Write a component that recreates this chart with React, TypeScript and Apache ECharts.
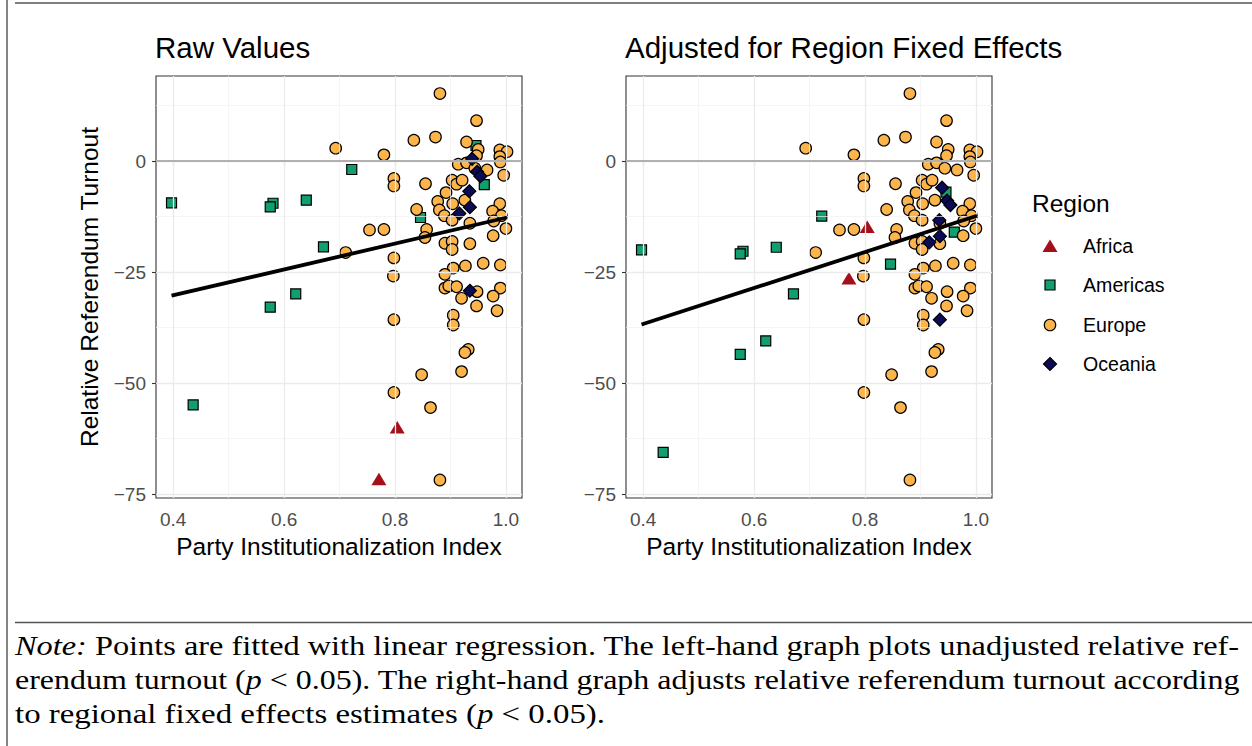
import React, { useEffect, useRef } from "react";
import * as echarts from "echarts";

// ---- Data ----
const xTicks = [0.4, 0.6, 0.8, 1.0];
const xMinor = [0.5, 0.7, 0.9];
const yTicks = [-75, -50, -25, 0];
const yMinor = [-62.5, -37.5, -12.5, 12.5];

const regions = ["Africa", "Americas", "Europe", "Oceania"];

// Europe is the reference region: identical in both panels
const europe: [number, number][] = [
  [0.881, 15.2], [0.947, 9.1], [0.834, 4.7], [0.873, 5.4], [0.693, 2.9], [0.78, 1.4],
  [0.929, 4.3], [0.95, 2.6], [0.947, 1.2], [0.989, 2.5], [1.002, 2.1], [0.989, 1.0], [0.99, -0.2],
  [0.914, -0.7], [0.929, -0.4], [0.944, -1.6], [0.966, -2.0], [0.996, -3.2],
  [0.798, -3.9], [0.798, -5.6], [0.855, -5.1], [0.903, -4.3], [0.911, -5.2], [0.921, -4.3],
  [0.892, -7.1], [0.877, -9.1], [0.904, -9.6], [0.926, -8.8], [0.989, -9.6],
  [0.839, -10.9], [0.88, -11.0], [0.889, -12.3], [0.903, -13.3],
  [0.976, -11.3], [0.992, -12.3], [0.978, -13.5], [1.0, -15.2], [0.977, -16.8], [0.935, -14.0],
  [0.857, -15.4], [0.854, -17.2], [0.754, -15.5], [0.78, -15.4], [0.711, -20.6], [0.798, -21.8], [0.797, -25.9],
  [0.89, -18.5], [0.903, -18.1], [0.903, -19.9], [0.935, -18.6],
  [0.959, -23.0], [0.99, -23.4], [0.927, -23.6], [0.905, -24.1], [0.89, -25.5],
  [0.89, -28.6], [0.897, -28.1], [0.911, -28.3], [0.948, -29.4], [0.92, -30.9], [0.947, -32.6],
  [0.99, -28.6], [0.977, -30.4], [0.984, -33.7], [0.905, -34.7], [0.905, -36.9], [0.798, -35.7],
  [0.932, -42.4], [0.926, -43.1], [0.92, -47.4], [0.848, -48.1], [0.798, -52.1], [0.864, -55.5], [0.881, -71.8],
];

const americasRaw: [number, number][] = [
  [0.397, -9.4], [0.436, -54.9], [0.58, -9.5], [0.575, -10.3], [0.575, -32.9], [0.64, -8.8],
  [0.621, -29.9], [0.671, -19.3], [0.722, -1.9], [0.846, -12.7], [0.961, -5.3], [0.946, 3.5],
];
const americasAdj: [number, number][] = [
  [0.397, -20.0], [0.436, -65.6], [0.58, -20.3], [0.575, -20.9], [0.575, -43.5], [0.64, -19.4],
  [0.621, -40.5], [0.671, -29.9], [0.722, -12.4], [0.846, -23.2], [0.961, -16.0], [0.946, -7.0],
];

const africaRaw: [number, number][] = [[0.804, -59.9], [0.771, -71.6]];
const africaAdj: [number, number][] = [[0.804, -14.8], [0.771, -26.4]];

const oceaniaRaw: [number, number][] = [
  [0.939, 0.5], [0.948, -2.4], [0.954, -3.4], [0.934, -6.8], [0.935, -10.4], [0.916, -11.8], [0.935, -29.2],
];
const oceaniaAdj: [number, number][] = [
  [0.939, -6.0], [0.948, -8.9], [0.954, -9.9], [0.934, -13.3], [0.935, -16.9], [0.916, -18.3], [0.935, -35.7],
];

const fitRaw: [number, number][] = [[0.397, -30.3], [1.002, -12.7]];
const fitAdj: [number, number][] = [[0.397, -36.8], [1.002, -12.3]];

const titles = ["Raw Values", "Adjusted for Region Fixed Effects"];
const xTitle = "Party Institutionalization Index";
const yTitle = "Relative Referendum Turnout";
const legendTitle = "Region";

const noteLines: [string, boolean][][] = [
  [["Note:", true], [" Points are fitted with linear regression. The left-hand graph plots unadjusted relative ref-", false]],
  [["erendum turnout (", false], ["p", true], [" < 0.05). The right-hand graph adjusts relative referendum turnout according", false]],
  [["to regional fixed effects estimates (", false], ["p", true], [" < 0.05).", false]],
];

// ---- Styles ----
const SANS = "'Liberation Sans', Arial, Helvetica, sans-serif";
const SERIF = "'Liberation Serif', 'Times New Roman', serif";
const COLORS: Record<string, string> = {
  Africa: "#A50F1B",
  Americas: "#139E6E",
  Europe: "#FDB44B",
  Oceania: "#0B0B58",
};

const X_MIN = 0.369;
const X_MAX = 1.029;
const Y_MIN = -75.85;
const Y_MAX = 19.15;

const fmtY = (v: number) => (v < 0 ? "\u2212" + Math.abs(v) : String(v));

export default function App() {
  const ref = useRef<HTMLDivElement>(null);

  useEffect(() => {
    if (!ref.current) return;
    const chart = echarts.init(ref.current, undefined, { renderer: "svg" });

    const gridLefts = [156, 626];
    const grids = gridLefts.map((l) => ({
      left: l,
      top: 76,
      width: 366,
      height: 422,
      show: true,
      borderColor: "#333333",
      borderWidth: 1.1,
      backgroundColor: "#ffffff",
    }));

    const xAxes = gridLefts.map((_, i) => ({
      type: "value",
      gridIndex: i,
      min: X_MIN,
      max: X_MAX,
      axisLine: { show: false },
      splitLine: { show: false },
      axisTick: { show: true, length: 4, lineStyle: { color: "#333333", width: 1.1 }, customValues: xTicks },
      axisLabel: {
        customValues: xTicks,
        formatter: (v: number) => v.toFixed(1),
        fontSize: 19,
        fontFamily: SANS,
        color: "#4d4d4d",
        margin: 12,
      },
      name: xTitle,
      nameLocation: "middle",
      nameGap: 36,
      nameTextStyle: { fontSize: 24.5, fontFamily: SANS, color: "#000" },
    }));

    const yAxes = gridLefts.map((_, i) => ({
      type: "value",
      gridIndex: i,
      min: Y_MIN,
      max: Y_MAX,
      axisLine: { show: false },
      splitLine: { show: false },
      axisTick: { show: true, length: 4, lineStyle: { color: "#333333", width: 1.1 }, customValues: yTicks },
      axisLabel: {
        customValues: yTicks,
        formatter: fmtY,
        fontSize: 19,
        fontFamily: SANS,
        color: "#4d4d4d",
        margin: 10,
      },
      name: i === 0 ? yTitle : "",
      nameLocation: "middle",
      nameGap: 54,
      nameRotate: 90,
      nameTextStyle: { fontSize: 24.5, fontFamily: SANS, color: "#000" },
    }));

    const series: any[] = [];
    const panels = [
      { americas: americasRaw, africa: africaRaw, oceania: oceaniaRaw, fit: fitRaw },
      { americas: americasAdj, africa: africaAdj, oceania: oceaniaAdj, fit: fitAdj },
    ];

    panels.forEach((p, i) => {
      const gridLineData: any[] = [
        ...xMinor.map((v) => ({ xAxis: v, lineStyle: { color: "#f1f1f1", width: 0.7, type: "solid" } })),
        ...yMinor.map((v) => ({ yAxis: v, lineStyle: { color: "#f1f1f1", width: 0.7, type: "solid" } })),
        ...xTicks.map((v) => ({ xAxis: v, lineStyle: { color: "#ebebeb", width: 1.3, type: "solid" } })),
        ...yTicks.map((v) => ({ yAxis: v, lineStyle: { color: "#ebebeb", width: 1.3, type: "solid" } })),
        { yAxis: 0, lineStyle: { color: "#b0b0b0", width: 1.8, type: "solid" } },
      ];
      series.push({
        type: "line",
        xAxisIndex: i,
        yAxisIndex: i,
        data: [],
        z: 1,
        silent: true,
        markLine: {
          silent: true,
          symbol: ["none", "none"],
          label: { show: false },
          emphasis: { disabled: true },
          animation: false,
          data: gridLineData,
        },
      });
      const common = { type: "scatter", xAxisIndex: i, yAxisIndex: i, z: 3, silent: true, emphasis: { disabled: true } };
      series.push({
        ...common,
        name: "Americas",
        data: p.americas,
        symbol: "rect",
        symbolSize: 10,
        itemStyle: { color: COLORS.Americas, borderColor: "#000", borderWidth: 1.2, opacity: 1 },
      });
      series.push({
        ...common,
        name: "Europe",
        data: europe,
        symbol: "circle",
        symbolSize: 11.5,
        itemStyle: { color: COLORS.Europe, borderColor: "#000", borderWidth: 1.2, opacity: 1 },
      });
      series.push({
        ...common,
        name: "Oceania",
        data: p.oceania,
        symbol: "diamond",
        symbolSize: 13,
        itemStyle: { color: COLORS.Oceania, borderColor: "#000", borderWidth: 1.2, opacity: 1 },
      });
      series.push({
        ...common,
        name: "Africa",
        data: p.africa,
        symbol: "triangle",
        symbolSize: [15, 12.5],
        itemStyle: { color: COLORS.Africa, borderWidth: 0, opacity: 1 },
      });
      series.push({
        type: "line",
        xAxisIndex: i,
        yAxisIndex: i,
        data: p.fit,
        symbol: "none",
        silent: true,
        z: 5,
        lineStyle: { color: "#000", width: 3.8 },
      });
    });

    // ---- note text, justified by horizontal stretch ----
    const NOTE_SIZE = 27;
    const ctx = document.createElement("canvas").getContext("2d");
    const measure = (segs: [string, boolean][]) => {
      if (!ctx) return 1;
      let w = 0;
      for (const [t, it] of segs) {
        ctx.font = `${it ? "italic " : ""}${NOTE_SIZE}px "Liberation Serif"`;
        w += ctx.measureText(t).width;
      }
      return w;
    };
    const targets = [1225, 1225, 590];
    const noteYs = [645, 680, 714];
    const noteGraphics = noteLines.map((segs, k) => {
      const txt = segs.map(([t, it]) => (it ? `{i|${t}}` : t)).join("");
      const w = measure(segs);
      return {
        type: "text",
        x: 15,
        y: noteYs[k],
        scaleX: targets[k] / w,
        scaleY: 1,
        originX: 0,
        originY: 0,
        silent: true,
        style: {
          x: 0,
          y: 0,
          text: txt,
          fill: "#000",
          fontSize: NOTE_SIZE,
          fontFamily: SERIF,
          textAlign: "left",
          textVerticalAlign: "middle",
          verticalAlign: "middle",
          rich: { i: { fontStyle: "italic", fontSize: NOTE_SIZE, fontFamily: SERIF, fill: "#000" } },
        },
      };
    });

    // ---- legend (drawn) ----
    const lx = 1050;
    const lys = [246, 285, 325, 364];
    const legendGraphics: any[] = [
      {
        type: "text",
        x: 1032,
        y: 203,
        silent: true,
        style: { text: legendTitle, fontSize: 24.5, fontFamily: SANS, fill: "#000", textAlign: "left", textVerticalAlign: "middle", verticalAlign: "middle" },
      },
      {
        type: "polygon",
        silent: true,
        shape: { points: [[lx - 7.5, lys[0] + 6], [lx + 7.5, lys[0] + 6], [lx, lys[0] - 6.5]] },
        style: { fill: COLORS.Africa },
      },
      {
        type: "rect",
        silent: true,
        shape: { x: lx - 5, y: lys[1] - 5, width: 10, height: 10 },
        style: { fill: COLORS.Americas, stroke: "#000", lineWidth: 1.2 },
      },
      {
        type: "circle",
        silent: true,
        shape: { cx: lx, cy: lys[2], r: 5.7 },
        style: { fill: COLORS.Europe, stroke: "#000", lineWidth: 1.2 },
      },
      {
        type: "polygon",
        silent: true,
        shape: { points: [[lx, lys[3] - 6.5], [lx + 6.5, lys[3]], [lx, lys[3] + 6.5], [lx - 6.5, lys[3]]] },
        style: { fill: COLORS.Oceania, stroke: "#000", lineWidth: 1.2 },
      },
      ...regions.map((r, k) => ({
        type: "text",
        x: 1083,
        y: lys[k],
        silent: true,
        style: { text: r, fontSize: 19.6, fontFamily: SANS, fill: "#000", textAlign: "left", textVerticalAlign: "middle", verticalAlign: "middle" },
      })),
    ];

    const titleGraphics = titles.map((t, k) => ({
      type: "text",
      x: gridLefts[k] - 1,
      y: 47,
      silent: true,
      style: { text: t, fontSize: 29.5, fontFamily: SANS, fill: "#000", textAlign: "left", textVerticalAlign: "middle", verticalAlign: "middle" },
    }));

    const frameGraphics = [
      { type: "line", silent: true, shape: { x1: 7, y1: 0, x2: 7, y2: 746 }, style: { stroke: "#333", lineWidth: 1.2 } },
      { type: "line", silent: true, shape: { x1: 15, y1: 3, x2: 1252, y2: 3 }, style: { stroke: "#555", lineWidth: 1.5 } },
      { type: "line", silent: true, shape: { x1: 15, y1: 622.5, x2: 1252, y2: 622.5 }, style: { stroke: "#555", lineWidth: 1.5 } },
    ];

    chart.setOption({
      animation: false,
      backgroundColor: "#ffffff",
      textStyle: { fontFamily: SANS },
      grid: grids,
      xAxis: xAxes,
      yAxis: yAxes,
      series,
      graphic: [...frameGraphics, ...titleGraphics, ...legendGraphics, ...noteGraphics],
    } as any);

    return () => chart.dispose();
  }, []);

  return (
    <div
      ref={ref}
      style={{ position: "fixed", left: 0, top: 0, width: 1252, height: 746, background: "#fff" }}
    />
  );
}
